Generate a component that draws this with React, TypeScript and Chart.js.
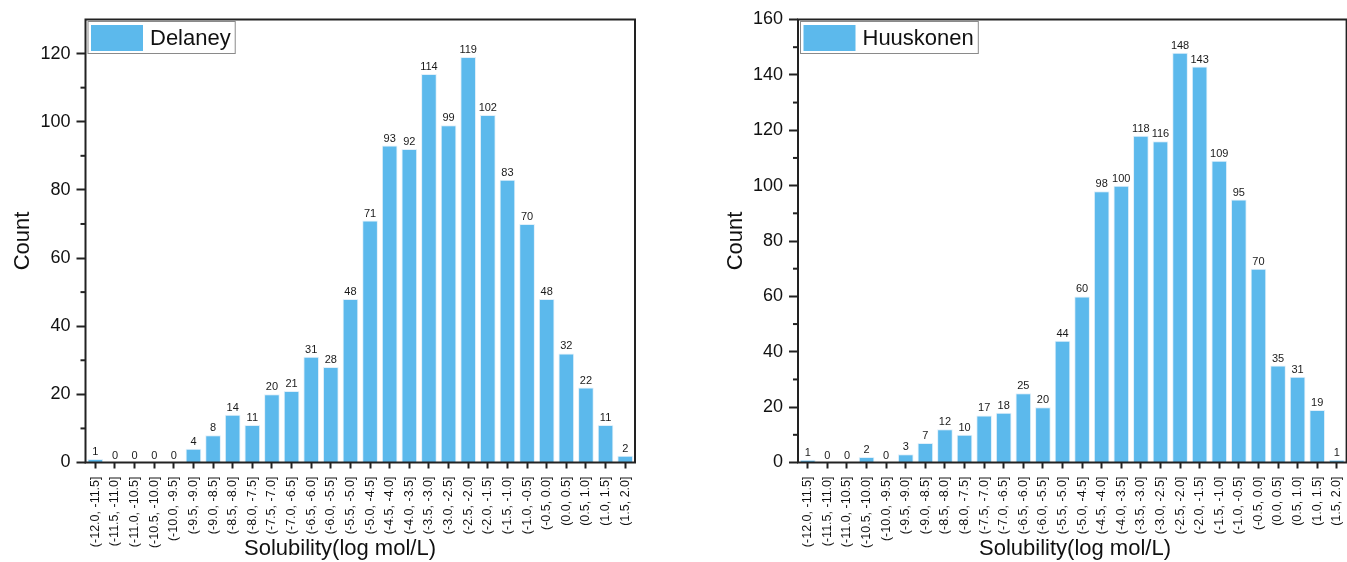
import React, { useEffect, useRef } from "react";
import { Chart, registerables } from "chart.js";

Chart.register(...registerables);

const categories = [
  "(-12.0, -11.5]", "(-11.5, -11.0]", "(-11.0, -10.5]", "(-10.5, -10.0]",
  "(-10.0, -9.5]", "(-9.5, -9.0]", "(-9.0, -8.5]", "(-8.5, -8.0]",
  "(-8.0, -7.5]", "(-7.5, -7.0]", "(-7.0, -6.5]", "(-6.5, -6.0]",
  "(-6.0, -5.5]", "(-5.5, -5.0]", "(-5.0, -4.5]", "(-4.5, -4.0]",
  "(-4.0, -3.5]", "(-3.5, -3.0]", "(-3.0, -2.5]", "(-2.5, -2.0]",
  "(-2.0, -1.5]", "(-1.5, -1.0]", "(-1.0, -0.5]", "(-0.5, 0.0]",
  "(0.0, 0.5]", "(0.5, 1.0]", "(1.0, 1.5]", "(1.5, 2.0]",
];

const delaneyCounts = [1, 0, 0, 0, 0, 4, 8, 14, 11, 20, 21, 31, 28, 48, 71, 93, 92, 114, 99, 119, 102, 83, 70, 48, 32, 22, 11, 2];
const huuskonenCounts = [1, 0, 0, 2, 0, 3, 7, 12, 10, 17, 18, 25, 20, 44, 60, 98, 100, 118, 116, 148, 143, 109, 95, 70, 35, 31, 19, 1];

const delaneyYTicks = [0, 20, 40, 60, 80, 100, 120];
const huuskonenYTicks = [0, 20, 40, 60, 80, 100, 120, 140, 160];

const FONT = "'Liberation Sans', Arial, sans-serif";
const BAR_COLOR = "#5CB9EC";
const AXIS_COLOR = "#222222";

const decoPlugin = {
  id: "deco",
  afterDraw(chart: any, _args: any, opts: any) {
    const ctx = chart.ctx;
    const { left, right, top, bottom } = chart.chartArea;
    ctx.save();

    // frame
    ctx.strokeStyle = AXIS_COLOR;
    ctx.lineWidth = 2;
    ctx.strokeRect(left, top, right - left, bottom - top);

    // minor y ticks
    const y = chart.scales.y;
    ctx.lineWidth = 2;
    for (let v = opts.minorStep; v < y.max; v += opts.minorStep * 2) {
      const py = y.getPixelForValue(v);
      ctx.beginPath();
      ctx.moveTo(left - 5, py);
      ctx.lineTo(left, py);
      ctx.stroke();
    }

    // value labels
    const meta = chart.getDatasetMeta(0);
    const data = chart.data.datasets[0].data;
    ctx.fillStyle = "#1a1a1a";
    ctx.font = `11px ${FONT}`;
    ctx.textAlign = "center";
    ctx.textBaseline = "bottom";
    meta.data.forEach((bar: any, i: number) => {
      ctx.fillText(String(data[i]), bar.x, bar.y - 1.5);
    });

    // legend
    const bx = left + 2.5;
    const by = top + 2;
    const bh = 32;
    const sx = bx + 3;
    const sy = by + 3.5;
    const sw = 52;
    const sh = 26;
    ctx.font = `22px ${FONT}`;
    const tx = sx + sw + 7;
    const tw = ctx.measureText(opts.legendLabel).width;
    const bw = tx + tw + 4.5 - bx;
    ctx.fillStyle = "#ffffff";
    ctx.fillRect(bx, by, bw, bh);
    ctx.strokeStyle = "#8a8a8a";
    ctx.lineWidth = 1;
    ctx.strokeRect(bx, by, bw, bh);
    ctx.fillStyle = BAR_COLOR;
    ctx.fillRect(sx, sy, sw, sh);
    ctx.fillStyle = "#111111";
    ctx.textAlign = "left";
    ctx.textBaseline = "middle";
    ctx.fillText(opts.legendLabel, tx, by + bh / 2 + 1);

    // axis titles
    ctx.font = `22px ${FONT}`;
    ctx.textAlign = "center";
    ctx.textBaseline = "middle";
    ctx.fillText(opts.xTitle, opts.xTitleX, 549);
    ctx.translate(opts.yTitleX, (top + bottom) / 2);
    ctx.rotate(-Math.PI / 2);
    ctx.fillText(opts.yTitle, 0, 0);
    ctx.restore();
  },
};

type Spec = {
  counts: number[];
  label: string;
  yMax: number;
  yTicks: number[];
  chartLeft: number;
  chartRight: number;
  canvasWidth: number;
  yTitleX: number;
  xTitleX: number;
};

function HistChart({ spec, style }: { spec: Spec; style: React.CSSProperties }) {
  const ref = useRef<HTMLCanvasElement | null>(null);
  useEffect(() => {
    if (!ref.current) return;
    const chart = new Chart(ref.current, {
      type: "bar",
      data: {
        labels: categories,
        datasets: [
          {
            label: spec.label,
            data: spec.counts,
            backgroundColor: BAR_COLOR,
            borderColor: "rgba(225,240,250,1)",
            borderWidth: 1,
            barPercentage: 0.8,
            categoryPercentage: 1,
          },
        ],
      },
      options: {
        animation: false,
        responsive: false,
        devicePixelRatio: 1,
        layout: {
          padding: { left: 0, top: 19.5, right: spec.canvasWidth - spec.chartRight, bottom: 0 },
        },
        plugins: {
          legend: { display: false },
          tooltip: { enabled: false },
          deco: {
            legendLabel: spec.label,
            minorStep: 10,
            xTitle: "Solubility(log mol/L)",
            yTitle: "Count",
            xTitleX: spec.xTitleX,
            yTitleX: spec.yTitleX,
          },
        } as any,
        scales: {
          x: {
            type: "category",
            offset: true,
            border: { display: false },
            grid: {
              drawOnChartArea: false,
              offset: false,
              drawTicks: true,
              tickLength: 6,
              tickWidth: 2,
              tickColor: AXIS_COLOR,
              color: AXIS_COLOR,
            },
            ticks: {
              autoSkip: false,
              minRotation: 90,
              maxRotation: 90,
              padding: 8,
              color: "#111111",
              font: { family: FONT, size: 12.5 },
            },
            afterFit: (scale: any) => {
              scale.height = 99.5;
            },
          },
          y: {
            type: "linear",
            min: 0,
            max: spec.yMax,
            border: { display: false },
            grid: {
              drawOnChartArea: false,
              drawTicks: true,
              tickLength: 9,
              tickWidth: 2,
              tickColor: AXIS_COLOR,
              color: AXIS_COLOR,
            },
            afterBuildTicks: (scale: any) => {
              scale.ticks = spec.yTicks.map((v) => ({ value: v }));
            },
            ticks: {
              padding: 6,
              color: "#111111",
              font: { family: FONT, size: 18 },
            },
            afterFit: (scale: any) => {
              scale.width = spec.chartLeft;
            },
          },
        },
      },
      plugins: [decoPlugin],
    } as any);
    return () => chart.destroy();
  }, [spec]);
  return <canvas ref={ref} width={spec.canvasWidth} height={562} style={style} />;
}

const leftSpec: Spec = {
  counts: delaneyCounts,
  label: "Delaney",
  yMax: 130,
  yTicks: delaneyYTicks,
  chartLeft: 85.5,
  chartRight: 635,
  canvasWidth: 660,
  yTitleX: 23,
  xTitleX: 340,
};

const rightSpec: Spec = {
  counts: huuskonenCounts,
  label: "Huuskonen",
  yMax: 160,
  yTicks: huuskonenYTicks,
  chartLeft: 138,
  chartRight: 689,
  canvasWidth: 700,
  yTitleX: 76,
  xTitleX: 415,
};

export default function App() {
  return (
    <div
      style={{
        position: "fixed",
        left: 0,
        top: 0,
        width: 1347,
        height: 562,
        overflow: "hidden",
        background: "#ffffff",
      }}
    >
      <HistChart spec={leftSpec} style={{ position: "absolute", left: 0, top: 0 }} />
      <HistChart spec={rightSpec} style={{ position: "absolute", left: 660, top: 0 }} />
    </div>
  );
}
